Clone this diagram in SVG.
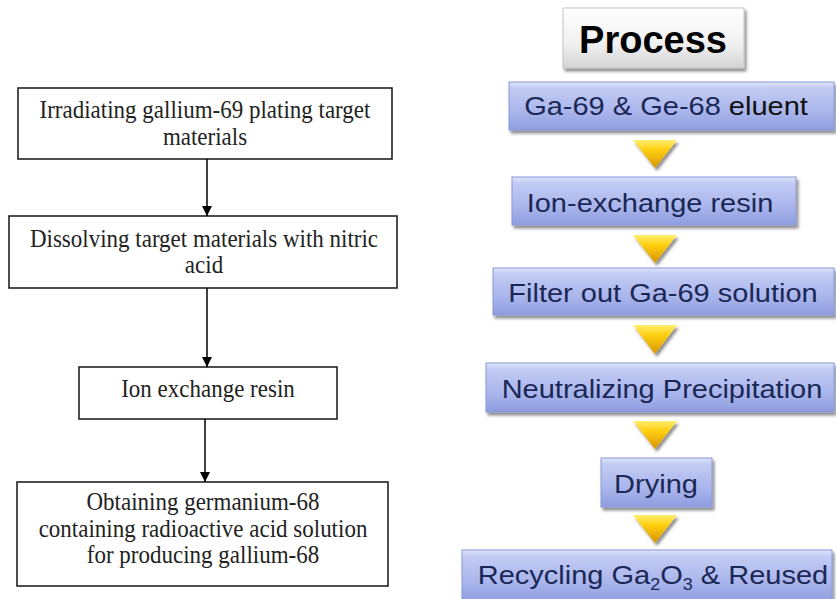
<svg xmlns="http://www.w3.org/2000/svg" width="836" height="599" viewBox="0 0 836 599">
<defs>
<linearGradient id="blue" x1="0" y1="0" x2="0" y2="1">
<stop offset="0" stop-color="#dfe5fb"/>
<stop offset="0.12" stop-color="#c3ccf4"/>
<stop offset="0.6" stop-color="#aab6ec"/>
<stop offset="1" stop-color="#8e9de0"/>
</linearGradient>
<linearGradient id="grey" x1="0" y1="0" x2="0" y2="1">
<stop offset="0" stop-color="#ffffff"/>
<stop offset="0.6" stop-color="#f0f0f0"/>
<stop offset="1" stop-color="#d4d4d4"/>
</linearGradient>
<linearGradient id="gold" x1="0" y1="0" x2="0" y2="1">
<stop offset="0" stop-color="#ffee70"/>
<stop offset="0.35" stop-color="#ffcf10"/>
<stop offset="1" stop-color="#d99400"/>
</linearGradient>
<filter id="sh" x="-10%" y="-20%" width="125%" height="150%">
<feGaussianBlur in="SourceAlpha" stdDeviation="1.6"/>
<feOffset dx="1.5" dy="2.5" result="b"/>
<feComponentTransfer><feFuncA type="linear" slope="0.45"/></feComponentTransfer>
<feMerge><feMergeNode/><feMergeNode in="SourceGraphic"/></feMerge>
</filter>
<marker id="ah" viewBox="0 0 10 10" refX="10" refY="5" markerWidth="10" markerHeight="10" markerUnits="userSpaceOnUse" orient="auto">
<path d="M0,0 L10,5 L0,10 Z" fill="#000"/>
</marker>
</defs>
<style>
.lb{fill:#fff;stroke:#222;stroke-width:1.6}
.lt{font-family:"Liberation Serif","Times New Roman",serif;font-size:23px;fill:#222;text-anchor:middle}
.bb{fill:url(#blue);stroke:#8a98d6;stroke-width:1;filter:url(#sh)}
.bt{font-family:"Liberation Sans",Arial,sans-serif;font-size:29px;fill:#1b2856;text-anchor:middle}
.tri{fill:url(#gold);filter:url(#sh)}
.con{stroke:#000;stroke-width:1.5;fill:none}
</style>
<rect width="836" height="599" fill="#fff"/>

<g id="left1"><rect class="lb" x="18" y="88" width="374" height="71"/>
<text class="lt" transform="translate(205,118) scale(1,1.12)">Irradiating gallium-69 plating target</text>
<text class="lt" transform="translate(205,145) scale(1,1.12)">materials</text></g>
<g id="left2"><rect class="lb" x="9" y="216" width="388" height="72"/>
<text class="lt" transform="translate(204,247) scale(1,1.12)">Dissolving target materials with nitric</text>
<text class="lt" transform="translate(204,273) scale(1,1.12)">acid</text></g>
<g id="left3"><rect class="lb" x="79" y="367" width="258" height="52"/>
<text class="lt" transform="translate(208,397) scale(1,1.12)">Ion exchange resin</text></g>
<g id="left4"><rect class="lb" x="17" y="482" width="371" height="104"/>
<text class="lt" transform="translate(203,510) scale(1,1.12)">Obtaining germanium-68</text>
<text class="lt" transform="translate(203,537) scale(1,1.12)">containing radioactive acid solution</text>
<text class="lt" transform="translate(203,563) scale(1,1.12)">for producing gallium-68</text></g>

<g id="connectors">
<line class="con" x1="207" y1="159" x2="207" y2="216" marker-end="url(#ah)"/>
<line class="con" x1="207" y1="288" x2="207" y2="367" marker-end="url(#ah)"/>
<line class="con" x1="205" y1="419" x2="205" y2="482" marker-end="url(#ah)"/>
<polygon class="tri" points="633,140 677,140 655,168"/>
<polygon class="tri" points="633,235 677,235 655,263"/>
<polygon class="tri" points="633,325 677,325 655,354"/>
<polygon class="tri" points="633,421 677,421 655,449"/>
<polygon class="tri" points="633,515 677,515 655,543"/>
</g>

<g id="process"><rect x="563" y="8" width="181" height="60" fill="url(#grey)" stroke="#c4c4c4" stroke-width="1" filter="url(#sh)"/>
<text x="653" y="53" font-family="'Liberation Sans',Arial,sans-serif" font-size="38" font-weight="bold" fill="#000" text-anchor="middle">Process</text></g>

<g id="r1"><rect class="bb" x="509" y="82" width="325" height="48"/>
<text class="bt" transform="translate(666,115) scale(1,0.92)">Ga-69 &amp; Ge-68 <tspan fill="#111">eluent</tspan></text></g>
<g id="r2"><rect class="bb" x="512" y="177" width="284" height="48"/>
<text class="bt" transform="translate(650,212) scale(1,0.92)">Ion-exchange resin</text></g>
<g id="r3"><rect class="bb" x="493" y="268" width="341" height="47"/>
<text class="bt" transform="translate(663,302) scale(1,0.92)">Filter out Ga-69 solution</text></g>
<g id="r4"><rect class="bb" x="486" y="363" width="348" height="49"/>
<text class="bt" transform="translate(662,398) scale(1,0.92)">Neutralizing Precipitation</text></g>
<g id="r5"><rect class="bb" x="601" y="458" width="111" height="49"/>
<text class="bt" transform="translate(656,493) scale(1,0.92)">Drying</text></g>
<g id="r6"><rect class="bb" x="462" y="550" width="370" height="52"/>
<text class="bt" transform="translate(653,584) scale(1,0.92)">Recycling Ga<tspan font-size="18" dy="6">2</tspan><tspan dy="-6">O</tspan><tspan font-size="18" dy="6">3</tspan><tspan dy="-6"> &amp; Reused</tspan></text></g>
</svg>
